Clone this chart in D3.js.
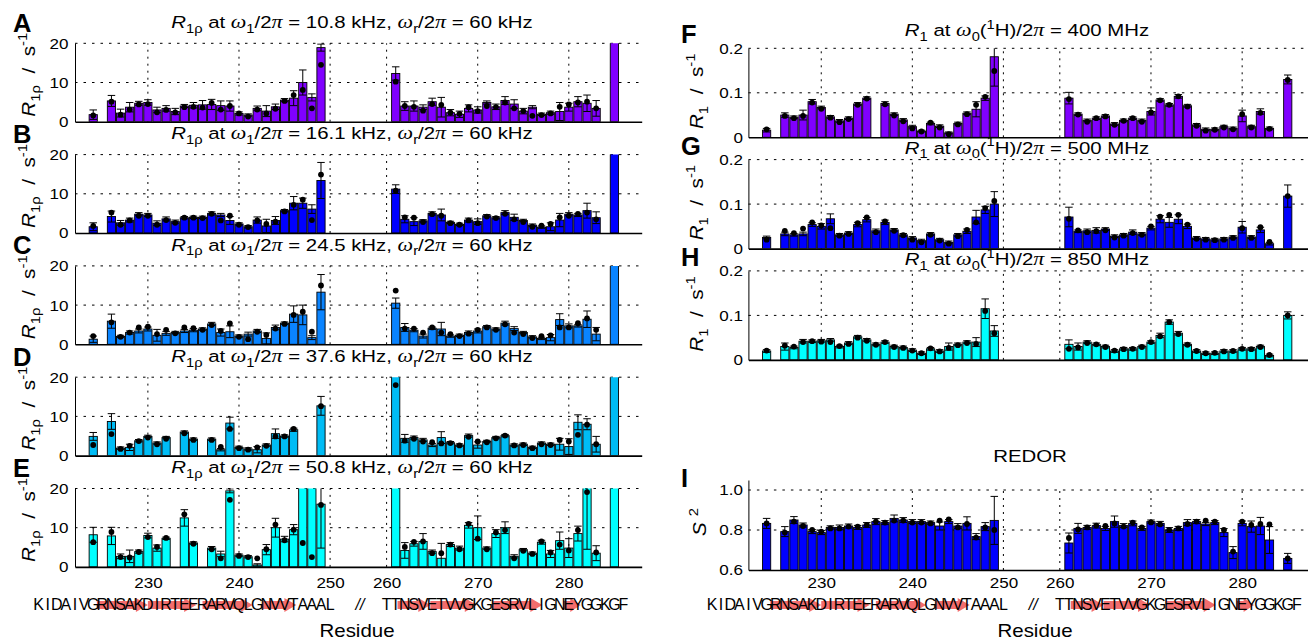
<!DOCTYPE html>
<html><head><meta charset="utf-8">
<script src="https://cdn.jsdelivr.net/npm/d3@7"></script>
<style>
body{margin:0;background:#fff}
svg{display:block}
text{font-family:"Liberation Sans",Arial,sans-serif;white-space:pre}
</style>
</head><body>
<svg id="fig"></svg>
<script>
// residue numbers that carry a bar
const residues = [224,226,227,228,229,230,231,232,233,234,235,236,237,238,239,240,241,242,243,244,245,246,247,248,249,
  261,262,263,264,265,266,267,268,269,270,271,272,273,274,275,276,277,278,279,280,281,282,283,285];
const xTicks = [230,240,250,260,270,280];
const spinLock = ["10.8","16.1","24.5","37.6","50.8"];
const fieldsH = ["400","500","850"];

// R1rho (s^-1): measured value, error, fitted value (dot)
const rhoA_val = [1.8,5.3,2.2,3.7,4.7,4.9,3.0,3.4,2.6,4.0,4.2,4.3,4.4,4.1,4.0,2.1,1.7,3.4,2.7,3.8,5.5,6.0,10.0,6.2,18.9,
  12.3,4.0,4.0,3.7,5.1,3.7,2.3,1.9,3.4,3.0,4.9,3.8,5.4,4.5,2.7,3.7,1.9,2.3,2.6,3.7,5.1,4.7,3.4,40];
const rhoA_err = [1.2,1.4,1.0,1.2,0.5,0.7,0.7,0.7,0.8,0.4,0.7,1.1,1.3,1.2,1.3,0.4,0.3,0.6,1.4,0.7,0.4,1.9,3.2,0.9,0.9,
  1.7,1.1,1.3,0.6,0.9,2.5,0.8,0.8,0.9,0.8,0.4,0.7,1.0,1.1,0.7,0.4,0.3,0.4,2.3,1.0,1.3,2.1,2.0,0];
const rhoA_fit = [1.6,5.1,1.8,3.1,4.4,4.5,2.4,3.0,2.4,3.7,3.8,3.6,4.8,3.1,4.0,2.1,1.3,3.1,2.1,3.3,5.3,6.8,8.1,3.4,14.5,
  10.2,4.0,3.8,2.8,4.5,4.3,2.3,2.0,3.7,2.7,4.0,3.7,4.9,3.4,2.7,1.5,1.7,2.1,3.8,4.4,4.9,5.1,3.4,null];

const rhoB_val = [1.6,4.2,2.6,3.3,4.8,4.6,2.5,3.6,2.9,3.9,4.0,4.0,5.0,4.6,3.2,2.3,1.6,3.3,1.8,3.2,5.7,7.6,7.6,6.1,13.4,
  11.2,3.5,2.9,3.1,5.0,4.6,2.7,2.2,3.3,2.9,4.4,3.9,5.2,4.0,3.2,2.0,1.5,1.6,3.3,4.8,4.6,5.7,3.9,40];
const rhoB_err = [1.0,1.4,0.6,0.5,0.4,0.4,0.6,0.5,0.4,0.3,0.3,0.3,0.4,0.4,1.0,0.3,0.3,0.8,1.7,1.0,0.3,1.7,1.3,1.1,4.6,
  1.1,0.9,1.0,0.3,0.4,1.5,0.3,0.3,0.5,0.7,0.3,0.3,0.5,0.8,0.3,0.3,0.3,1.0,1.7,0.4,0.4,1.9,1.5,0];
const rhoB_fit = [1.8,5.2,2.1,3.2,4.4,4.4,2.1,3.3,2.6,3.9,3.9,3.8,4.9,3.2,4.4,2.1,1.5,3.2,2.3,2.9,5.5,7.2,8.5,3.3,14.9,
  10.8,4.0,3.9,2.8,4.8,4.4,2.5,2.1,3.2,2.5,4.2,3.8,4.9,3.5,2.8,1.6,1.9,2.3,4.0,4.4,4.9,5.2,3.5,null];

const rhoC_val = [1.3,5.9,2.0,3.0,3.4,3.9,2.3,2.8,3.0,3.4,3.6,3.9,5.2,3.0,3.2,2.1,2.6,3.4,1.5,4.3,5.4,7.7,7.5,1.7,13.3,
  10.5,4.3,3.6,2.1,4.1,3.9,2.1,2.3,3.0,3.4,4.5,3.9,5.4,4.0,3.0,1.9,1.5,1.7,6.3,4.7,4.7,6.4,2.6,40];
const rhoC_err = [0.8,1.8,0.3,0.4,0.5,0.5,1.5,0.5,0.3,0.4,0.4,0.3,0.4,0.9,1.5,0.3,0.5,0.4,1.4,0.6,0.3,2.1,2.5,0.5,4.5,
  1.3,1.0,0.4,0.5,0.3,1.7,0.3,0.3,0.4,0.5,0.3,0.3,0.5,0.5,0.3,0.3,0.3,0.8,1.5,0.5,0.3,2.1,1.7,0];
const rhoC_fit = [2.1,5.6,1.9,3.0,4.3,4.5,2.6,3.7,2.8,4.3,4.1,3.7,4.9,3.4,5.3,1.9,1.3,3.2,2.4,4.0,5.2,7.5,8.3,3.2,15.0,
  13.7,4.0,4.0,3.0,4.3,3.0,2.6,2.1,2.7,3.7,4.3,3.7,5.1,3.0,2.6,1.6,2.1,2.3,4.3,4.3,5.4,6.6,3.7,null];

const rhoD_val = [4.9,8.7,1.9,2.1,3.8,4.9,3.2,4.6,null,6.0,4.2,null,4.2,1.5,8.3,2.1,1.7,1.5,2.7,5.6,5.0,6.6,null,null,12.7,
  40,4.4,4.6,4.0,2.7,4.6,3.3,2.7,5.1,2.7,3.6,4.6,5.1,2.7,2.9,2.1,3.2,2.9,2.9,2.3,8.5,8.0,2.9,40];
const rhoD_err = [1.0,2.0,0.3,0.8,0.3,0.3,0.3,0.3,null,0.3,0.3,null,0.3,0.3,1.5,0.3,0.3,0.8,0.3,1.2,0.3,0.4,null,null,2.4,
  0,1.0,0.4,0.4,0.4,1.5,0.3,0.3,0.4,0.8,0.3,0.3,0.3,0.3,0.3,0.3,0.3,0.3,1.5,2.0,1.9,1.4,2.0,0];
const rhoD_fit = [2.7,5.5,1.7,2.5,3.7,4.6,2.9,4.3,null,5.7,4.0,null,4.0,2.2,6.8,1.9,1.5,2.1,2.5,4.9,4.9,6.8,null,null,12.6,
  18.0,3.8,4.3,3.6,3.4,3.1,3.2,2.6,4.8,3.6,3.4,4.4,5.1,2.6,2.7,1.9,2.9,2.7,4.0,3.6,5.3,7.9,2.9,null];

const rhoE_val = [8.2,7.9,2.7,2.7,3.9,8.0,4.8,7.3,null,12.5,6.1,null,4.8,3.3,19.4,3.0,2.6,0.5,4.4,10.0,7.1,9.5,40,40,16.0,
  40,4.2,5.9,6.5,3.9,2.2,5.7,4.8,10.6,10.0,4.8,8.5,10.0,2.7,4.4,3.5,6.3,3.3,6.7,4.8,8.5,24,3.5,40];
const rhoE_err = [1.9,2.2,0.6,1.6,0.4,0.6,0.8,0.3,null,2.1,0.3,null,0.4,0.7,0.5,0.3,0.3,0.3,1.3,2.4,0.7,1.3,0,0,11.2,
  0,2.0,0.6,2.0,0.4,3.8,0.5,0.5,0.7,3.0,0.3,1.0,1.5,0.4,0.3,0.3,0.5,0.9,2.2,2.4,1.9,19.5,1.9,0];
const rhoE_fit = [6.3,8.9,2.5,2.4,3.8,7.6,5.1,7.4,null,13.4,5.9,null,4.5,2.2,17.1,2.8,2.5,2.2,4.5,10.8,6.8,9.5,6.1,2.5,15.8,
  null,5.1,6.4,6.5,3.5,3.5,5.7,4.5,11.0,7.2,4.5,8.8,9.4,2.2,4.1,3.3,6.5,3.7,5.7,4.2,9.4,19.1,3.7,null];

// R1 (s^-1)
const r1F_val = [0.016,0.050,0.045,0.050,0.080,0.067,0.046,0.037,0.043,0.075,0.088,null,0.076,0.052,0.039,0.024,0.014,0.031,0.025,0.010,0.031,0.054,0.063,0.088,0.181,
  0.088,0.052,0.038,0.043,0.048,0.030,0.038,0.043,0.038,0.058,0.084,0.073,0.092,0.071,0.028,0.018,0.018,0.024,0.020,0.048,0.024,0.058,0.020,0.130];
const r1F_err = [0.004,0.005,0.003,0.011,0.005,0.003,0.003,0.003,0.003,0.003,0.003,null,0.004,0.003,0.003,0.003,0.002,0.003,0.003,0.002,0.003,0.003,0.017,0.005,0.066,
  0.013,0.003,0.003,0.003,0.003,0.003,0.003,0.003,0.003,0.008,0.003,0.003,0.004,0.003,0.003,0.003,0.003,0.003,0.003,0.013,0.003,0.006,0.003,0.010];
const r1F_fit = [0.018,0.048,0.043,0.048,0.078,0.064,0.044,0.034,0.041,0.073,0.087,null,0.074,0.049,0.036,0.020,0.013,0.033,0.022,0.007,0.029,0.052,0.073,0.091,0.149,
  0.086,0.051,0.035,0.043,0.047,0.028,0.037,0.043,0.035,0.056,0.083,0.073,0.092,0.069,0.026,0.015,0.017,0.022,0.018,0.052,0.022,0.055,0.019,0.129];

const r1G_val = [0.025,0.033,0.031,0.033,0.054,0.050,0.067,0.031,0.035,0.054,0.065,0.040,0.059,0.042,0.031,0.024,0.018,0.033,0.020,0.014,0.031,0.039,0.071,0.087,0.100,
  0.071,0.039,0.040,0.041,0.044,0.028,0.031,0.037,0.033,0.046,0.066,0.059,0.066,0.050,0.024,0.022,0.020,0.022,0.026,0.048,0.026,0.042,0.011,0.118];
const r1G_err = [0.003,0.004,0.003,0.004,0.004,0.006,0.011,0.003,0.003,0.005,0.005,0.004,0.005,0.003,0.003,0.003,0.003,0.003,0.003,0.003,0.003,0.005,0.015,0.008,0.028,
  0.022,0.003,0.004,0.006,0.003,0.003,0.003,0.005,0.003,0.004,0.008,0.011,0.010,0.005,0.003,0.003,0.003,0.003,0.003,0.013,0.003,0.006,0.003,0.025];
const r1G_fit = [0.020,0.040,0.035,0.045,0.059,0.052,0.046,0.029,0.033,0.057,0.070,0.037,0.061,0.040,0.030,0.020,0.014,0.031,0.018,0.011,0.028,0.042,0.059,0.091,0.107,
  0.067,0.041,0.037,0.039,0.041,0.025,0.029,0.035,0.031,0.050,0.072,0.076,0.076,0.054,0.022,0.020,0.019,0.020,0.024,0.046,0.024,0.048,0.015,0.118];

const r1H_val = [0.020,0.030,0.028,0.042,0.042,0.043,0.045,0.030,0.038,0.052,0.045,0.035,0.040,0.030,0.028,0.022,0.015,0.025,0.020,0.030,0.035,0.040,0.040,0.115,0.065,
  0.035,0.030,0.040,0.035,0.030,0.020,0.025,0.025,0.030,0.040,0.055,0.085,0.060,0.035,0.020,0.015,0.015,0.020,0.020,0.025,0.025,0.030,0.010,0.100];
const r1H_err = [0.003,0.008,0.003,0.004,0.003,0.003,0.003,0.003,0.003,0.003,0.003,0.003,0.003,0.003,0.003,0.003,0.003,0.003,0.003,0.008,0.003,0.003,0.010,0.022,0.012,
  0.010,0.008,0.003,0.003,0.003,0.003,0.003,0.003,0.003,0.003,0.005,0.005,0.004,0.003,0.003,0.003,0.003,0.003,0.003,0.003,0.003,0.003,0.003,0.008];
const r1H_fit = [0.021,0.032,0.030,0.040,0.042,0.041,0.040,0.031,0.036,0.050,0.043,0.034,0.040,0.029,0.027,0.021,0.015,0.026,0.019,0.027,0.033,0.038,0.036,0.110,0.060,
  0.025,0.028,0.038,0.035,0.029,0.021,0.024,0.025,0.029,0.040,0.053,0.085,0.058,0.034,0.020,0.015,0.016,0.019,0.020,0.025,0.024,0.029,0.011,0.100];

// REDOR order parameter S^2
const s2_val = [0.833,0.792,0.850,0.825,0.792,0.787,0.813,0.813,0.820,0.813,0.825,0.842,0.837,0.858,0.850,0.842,0.842,0.837,0.820,0.842,0.820,0.833,0.767,0.817,0.848,
  0.735,0.808,0.813,0.822,0.808,0.842,0.822,0.833,0.808,0.842,0.833,0.800,0.808,0.837,0.842,0.830,0.837,0.787,0.687,0.833,0.817,0.820,0.750,0.658];
const s2_err = [0.025,0.025,0.017,0.010,0.010,0.010,0.008,0.012,0.010,0.010,0.012,0.015,0.010,0.017,0.012,0.010,0.010,0.008,0.020,0.010,0.012,0.033,0.015,0.020,0.120,
  0.050,0.025,0.010,0.012,0.010,0.028,0.010,0.012,0.010,0.008,0.010,0.012,0.010,0.015,0.010,0.008,0.010,0.020,0.030,0.012,0.028,0.043,0.067,0.025];
const s2_fit = [0.833,0.787,0.842,0.820,0.800,0.792,0.808,0.808,0.817,0.817,0.825,0.842,0.837,0.847,0.847,0.837,0.837,0.833,0.847,0.853,0.813,0.830,0.762,0.813,0.800,
  0.760,0.803,0.813,0.822,0.820,0.833,0.817,0.837,0.813,0.838,0.828,0.800,0.808,0.830,0.842,0.847,0.842,0.800,0.692,0.842,0.825,0.830,0.828,0.658];

// sequence and beta strands
const seqLeft = "KIDAIVGRNSAKDIRTEERARVQLGNVVTAAAL", seqLeftStart = 218;
const seqRight = "TTNSVETVVGKGESRVLIGNEYGGKGF", seqRightStart = 260;
const strandFrom = [224.4, 230.0, 236.0, 242.6, 261.2, 264.8, 271.7, 279.4];
const strandTo   = [230.0, 235.3, 241.5, 246.3, 264.8, 269.9, 277.1, 281.3];

const W = 1308, H = 640;
const svg = d3.select("#fig").attr("width", W).attr("height", H);

const xLeft = d3.scaleLinear().domain([222, 250, 260, 288]).range([75, 330.1, 386.6, 641.7]);
const xRight = d3.scaleLinear().domain([222, 250, 260, 288]).range([748.4, 1003.4, 1059.8, 1315.1]);

const serif = "'Liberation Serif','DejaVu Serif',serif";
function rich(t, parts, fs) {
  let shift = 0;
  parts.forEach(([s, k]) => {
    const target = k === "b" ? fs * 0.28 : k === "p" ? -fs * 0.42 : 0;
    const sp = t.append("tspan").attr("dy", target - shift).text(s);
    shift = target;
    if (k === "b" || k === "p") sp.attr("font-size", fs * 0.72);
    if (k === "i") sp.attr("font-style", "italic");
    if (k === "g") sp.attr("font-style", "italic").attr("font-family", serif).attr("font-size", fs * 1.08);
  });
}
// text that is a little wider than the installed Helvetica clone
function wideText(x, y, size, sx, anchor, rot) {
  return svg.append("text")
    .attr("transform", `translate(${x},${y})${rot ? " rotate(-90)" : ""} scale(${sx},1)`)
    .attr("text-anchor", anchor).attr("font-size", size);
}

const rhoTitle = f => [["R","i"],["1ρ","b"],[" at ",""],["ω","g"],["1","b"],["/2",""],["π","g"],[" = " + f + " kHz, ",""],
  ["ω","g"],["r","b"],["/2",""],["π","g"],[" = 60 kHz",""]];
const r1Title = f => [["R","i"],["1","b"],[" at ",""],["ω","g"],["0","b"],["(",""],["1","p"],["H)/2",""],["π","g"],[" = " + f + " MHz",""]];

const rhoCols = ["#8000ff","#0000ff","#0a84ff","#00bcf5","#00ffff"];
const r1Cols = ["#8000ff","#0000ff","#00ffff"];
const rhoVals = [rhoA_val, rhoB_val, rhoC_val, rhoD_val, rhoE_val];
const rhoErrs = [rhoA_err, rhoB_err, rhoC_err, rhoD_err, rhoE_err];
const rhoFits = [rhoA_fit, rhoB_fit, rhoC_fit, rhoD_fit, rhoE_fit];
const r1Vals = [r1F_val, r1G_val, r1H_val];
const r1Errs = [r1F_err, r1G_err, r1H_err];
const r1Fits = [r1F_fit, r1G_fit, r1H_fit];

const panels = [];
"ABCDE".split("").forEach((L, i) => {
  const zero = 121.7 + i * 111.3;
  panels.push({
    L, x: xLeft, y: d3.scaleLinear().domain([0, 20]).range([zero, zero - 78.4]),
    ticks: [0, 10, 20], grid: [10, 20], fmt: d3.format("d"),
    color: rhoCols[i], v: rhoVals[i], e: rhoErrs[i], p: rhoFits[i],
    title: rhoTitle(spinLock[i]), titleX: 352, titleY: zero - 93.7,
    letterX: 13, letterY: zero - 90, labX: 35, labY: zero - 47,
    lab: [["R","i"],["1ρ","b"],["  /  s",""],["-1","p"]], tickX: 6,
    bottom: i === 4
  });
});
"FGH".split("").forEach((L, i) => {
  const zero = 137.3 + i * 111.3;
  panels.push({
    L, x: xRight, y: d3.scaleLinear().domain([0, 0.2]).range([zero, zero - 89]),
    ticks: [0, 0.1, 0.2], grid: [0.1, 0.2], fmt: d => d === 0 ? "0" : d3.format(".1f")(d),
    color: r1Cols[i], v: r1Vals[i], e: r1Errs[i], p: r1Fits[i],
    title: r1Title(fieldsH[i]), titleX: 1027, titleY: zero - (i === 0 ? 101 : 95),
    letterX: 681, letterY: zero - 94, labX: 703, labY: zero - 46,
    lab: [["R","i"],["1","b"],["  /  s",""],["-1","p"]], tickX: 5,
    bottom: false
  });
});
panels.push({
  L: "I", x: xRight, y: d3.scaleLinear().domain([0.6, 1.05]).range([570, 480]),
  ticks: [0.6, 0.8, 1.0], grid: [0.8, 1.0], fmt: d3.format(".1f"),
  color: "#0000ff", v: s2_val, e: s2_err, p: s2_fit,
  title: [["REDOR",""]], titleX: 1030, titleY: 462,
  letterX: 681, letterY: 487, labX: 706, labY: 522,
  lab: [["S","i"],[" ",""],["2","p"]], tickX: 5,
  bottom: true
});

const bw = 8.2, capW = 7.5;
const tickFont = 15.5, tickSx = 1.1;

panels.forEach(pn => {
  const x = pn.x, y = pn.y;
  const xr = x.range(), x0 = xr[0], x1 = Math.min(xr[xr.length - 1], W);
  const base = y.domain()[0];
  const yb = y(base), yt = y(d3.max(pn.ticks));
  const g = svg.append("g");

  // dotted grid
  g.append("g").selectAll("line").data(xTicks).join("line")
    .attr("x1", d => x(d)).attr("x2", d => x(d)).attr("y1", yb).attr("y2", yt)
    .attr("stroke", "#000").attr("stroke-width", 1).attr("stroke-dasharray", "2,5");
  g.append("g").selectAll("line").data(pn.grid).join("line")
    .attr("x1", x0).attr("x2", x1).attr("y1", d => y(d)).attr("y2", d => y(d))
    .attr("stroke", "#000").attr("stroke-width", 1).attr("stroke-dasharray", "2.5,6");

  const cid = "clip" + pn.L;
  svg.append("clipPath").attr("id", cid).append("rect")
    .attr("x", x0).attr("y", y.range()[1]).attr("width", x1 - x0).attr("height", yb - y.range()[1]);

  const rows = residues.map((r, i) => ({ r, v: pn.v[i], e: pn.e[i], p: pn.p[i] })).filter(d => d.v != null);
  const gb = g.append("g").attr("clip-path", `url(#${cid})`);
  gb.selectAll("rect").data(rows).join("rect")
    .attr("x", d => x(d.r) - bw / 2).attr("width", bw)
    .attr("y", d => y(d.v)).attr("height", d => yb - y(d.v))
    .attr("fill", pn.color).attr("stroke", "#000").attr("stroke-width", 0.9);

  const eb = rows.filter(d => d.e > 0);
  gb.selectAll("line.eb").data(eb).join("line").attr("class", "eb")
    .attr("x1", d => x(d.r)).attr("x2", d => x(d.r))
    .attr("y1", d => y(d.v - d.e)).attr("y2", d => y(d.v + d.e))
    .attr("stroke", "#000").attr("stroke-width", 1);
  ["hi", "lo"].forEach(k => {
    gb.selectAll("line.c" + k).data(eb).join("line").attr("class", "c" + k)
      .attr("x1", d => x(d.r) - capW / 2).attr("x2", d => x(d.r) + capW / 2)
      .attr("y1", d => y(k === "hi" ? d.v + d.e : d.v - d.e))
      .attr("y2", d => y(k === "hi" ? d.v + d.e : d.v - d.e))
      .attr("stroke", "#000").attr("stroke-width", 1);
  });
  gb.selectAll("circle").data(rows.filter(d => d.p != null)).join("circle")
    .attr("cx", d => x(d.r)).attr("cy", d => y(d.p)).attr("r", 2.9).attr("fill", "#000");

  // axes
  const ay = g.append("g").attr("transform", `translate(${x0},0)`)
    .call(d3.axisLeft(y).tickValues(pn.ticks).tickSize(0).tickPadding(pn.tickX).tickFormat(pn.fmt));
  ay.select(".domain").attr("stroke-width", 1);
  ay.selectAll("text").attr("font-size", tickFont).attr("font-family", "Liberation Sans, Arial, sans-serif")
    .attr("transform", `scale(${tickSx},1)`);

  const ax = g.append("g").attr("transform", `translate(0,${yb})`)
    .call(d3.axisBottom(x).tickValues(pn.bottom ? xTicks : []).tickSize(0).tickPadding(pn.L === "I" ? 7 : 10));
  ax.select(".domain").attr("stroke-width", 1.6);
  ax.selectAll("text").attr("font-size", tickFont).attr("font-family", "Liberation Sans, Arial, sans-serif")
    .attr("transform", `scale(${tickSx},1)`);

  // title, letter, y label
  rich(wideText(pn.titleX, pn.titleY, 17, 1.2, "middle"), pn.title, 17);
  svg.append("text").attr("x", pn.letterX).attr("y", pn.letterY)
    .attr("font-size", 25.5).attr("font-weight", "bold").text(pn.L);
  rich(wideText(pn.labX, pn.labY, 18, 1.15, "middle", true), pn.lab, 18);

  if (pn.bottom) {
    const seqY = 610;
    const strands = strandFrom.map((s, i) => [s, strandTo[i]]);
    g.append("g").selectAll("path").data(strands).join("path")
      .attr("d", ([s, e]) => {
        const a = x(s), b = x(e), hl = Math.min(12, (b - a) * 0.6), c = seqY - 5;
        return `M${a},${c - 4}L${b - hl},${c - 4}L${b - hl},${c - 7}L${b},${c}L${b - hl},${c + 7}L${b - hl},${c + 4}L${a},${c + 4}Z`;
      })
      .attr("fill", "#f26d6d");
    const letters = seqLeft.split("").map((c, i) => [c, seqLeftStart + i])
      .concat(seqRight.split("").map((c, i) => [c, seqRightStart + i]));
    g.append("g").selectAll("text").data(letters).join("text")
      .attr("x", d => x(d[1])).attr("y", seqY).attr("text-anchor", "middle")
      .attr("font-size", 16).text(d => d[0]);
    g.append("text").attr("x", x(255.3)).attr("y", seqY).attr("text-anchor", "middle")
      .attr("font-size", 16).attr("font-style", "italic").text("//");
    wideText(pn.L === "I" ? 1035 : 357, 637, 17.5, 1.17, "middle").text("Residue");
  }
});
</script>
</body></html>
